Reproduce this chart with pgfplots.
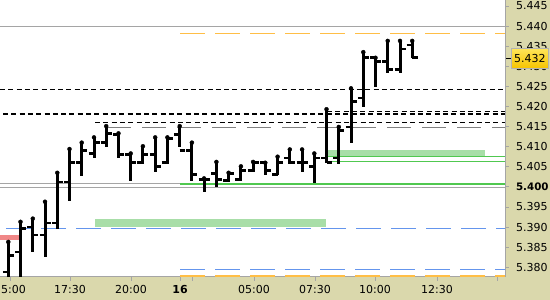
\documentclass[border=0pt]{standalone}
\usepackage{pgfplots}
\pgfplotsset{compat=1.18}
\usepackage{pgfplotstable}
\usepackage{fontspec}
\setmainfont{DejaVu Sans}
\definecolor{panel}{RGB}{218,216,172}
\definecolor{gband}{RGB}{168,222,168}
\definecolor{gline}{RGB}{80,200,80}
\definecolor{bdash}{RGB}{100,149,237}
\definecolor{odash}{RGB}{255,190,70}
\definecolor{rband}{RGB}{240,135,135}
\definecolor{lgray}{RGB}{165,165,165}
\definecolor{tagtop}{RGB}{255,230,90}
\definecolor{tagbot}{RGB}{246,196,0}

\pgfdeclareplotmark{ohlcO}{\pgfpathmoveto{\pgfqpoint{-5.5bp}{0pt}}\pgfpathlineto{\pgfqpoint{0pt}{0pt}}\pgfusepathqstroke}
\pgfdeclareplotmark{ohlcC}{\pgfpathmoveto{\pgfqpoint{0pt}{0pt}}\pgfpathlineto{\pgfqpoint{5.5bp}{0pt}}\pgfusepathqstroke}

\pgfplotstableread{
x o h l c
8.3 5.3788 5.3863 5.3770 5.3830
20.5 5.3838 5.3913 5.3770 5.3896
32.8 5.3900 5.3921 5.3837 5.3880
45.0 5.3880 5.3963 5.3826 5.3910
57.3 5.3910 5.4035 5.3896 5.4012
69.5 5.4012 5.4094 5.3965 5.4061
81.7 5.4061 5.4110 5.4027 5.4091
94.0 5.4083 5.4123 5.4071 5.4110
106.2 5.4110 5.4151 5.4098 5.4133
118.5 5.4131 5.4133 5.4071 5.4081
130.7 5.4081 5.4083 5.4015 5.4060
142.9 5.4060 5.4101 5.4058 5.4081
155.2 5.4081 5.4123 5.4037 5.4050
167.4 5.4060 5.4123 5.4058 5.4120
179.7 5.4131 5.4151 5.4098 5.4091
191.9 5.4091 5.4110 5.4015 5.4031
204.1 5.4019 5.4021 5.3987 5.4019
216.4 5.4033 5.4062 5.3999 5.4019
228.6 5.4015 5.4035 5.4012 5.4033
240.9 5.4018 5.4051 5.4015 5.4041
253.1 5.4040 5.4062 5.4037 5.4060
265.3 5.4060 5.4060 5.4029 5.4041
277.6 5.4031 5.4075 5.4029 5.4060
289.8 5.4072 5.4093 5.4058 5.4060
302.1 5.4060 5.4093 5.4037 5.4060
314.3 5.4050 5.4083 5.4010 5.4072
326.5 5.4072 5.4193 5.4060 5.4060
338.8 5.4072 5.4149 5.4058 5.4141
351.0 5.4149 5.4245 5.4108 5.4212
363.3 5.4221 5.4335 5.4199 5.4321
375.5 5.4321 5.4321 5.4249 5.4311
387.7 5.4311 5.4363 5.4282 5.4292
400.0 5.4292 5.4363 5.4282 5.4343
412.2 5.4353 5.4363 5.4321 5.4321
}\bars

\begin{document}
\begin{tikzpicture}
\fill[panel] (505bp,0) rectangle (550bp,300bp);
\fill[panel] (0,0) rectangle (550bp,23bp);
\begin{axis}[
  at={(0,23bp)}, anchor=south west,
  scale only axis, width=505bp, height=277bp,
  xmin=0, xmax=505, ymin=5.37758, ymax=5.44647,
  axis x line*=bottom, axis y line*=right,
  axis line style={draw=lgray, line width=1bp},
  tick align=outside, major tick length=4bp,
  tick style={lgray, line width=0.8bp},
  font=\fontsize{11bp}{13bp}\selectfont,
  xtick={10,70,131,180,192,254,315,375,437,497},
  xticklabels={15:00,17:30,20:00,\textbf{16},,05:00,07:30,10:00,12:30,},
  xticklabel style={anchor=center, yshift=-8.5bp},
  ytick={5.380,5.385,5.390,5.395,5.400,5.405,5.410,5.415,5.420,5.425,5.430,5.435,5.440,5.445},
  yticklabels={5.380,5.385,5.390,5.395,{\fontsize{10.3bp}{12bp}\selectfont\bfseries 5.400},5.405,5.410,5.415,5.420,5.425,5.430,5.435,5.440,5.445},
  yticklabel style={anchor=west, xshift=3.5bp},
  clip=true,
]
% zones
\addplot[fill=rband, draw=none] coordinates {(0,5.38689) (20,5.38689) (20,5.38796) (0,5.38796)};
\addplot[fill=gband, draw=none] coordinates {(95,5.39003) (326,5.39003) (326,5.39194) (95,5.39194)};
\addplot[fill=gband, draw=none] coordinates {(326,5.40751) (485,5.40751) (485,5.40925) (326,5.40925)};
% horizontal levels
\addplot[lgray, line width=1bp] coordinates {(0,5.4400) (505,5.4400)};
\addplot[odash, line width=1.2bp, dash pattern=on 25bp off 10bp] coordinates {(180,5.43818) (505,5.43818)};
\addplot[black, line width=1.2bp, dash pattern=on 5bp off 3.3bp] coordinates {(0,5.4242) (505,5.4242)};
\addplot[black, line width=1.2bp, dash pattern=on 5bp off 3.3bp] coordinates {(327,5.41876) (505,5.41876)};
\addplot[black, line width=1.8bp, dash pattern=on 5bp off 3.3bp] coordinates {(3,5.41809) (505,5.41809)};
\addplot[black, line width=1.2bp, dash pattern=on 5bp off 3.3bp] coordinates {(95,5.41602) (505,5.41602)};
\addplot[gray, line width=1.1bp, dash pattern=on 24bp off 11bp] coordinates {(107,5.41478) (505,5.41478)};
\addplot[gline, line width=1bp] coordinates {(326,5.40756) (505,5.40756)};
\addplot[gline, line width=1bp] coordinates {(326,5.40638) (505,5.40638)};
\addplot[lgray, line width=1bp] coordinates {(0,5.40083) (505,5.40083)};
\addplot[lgray, line width=1bp] coordinates {(0,5.39984) (505,5.39984)};
\addplot[gline, line width=1.5bp] coordinates {(180,5.40071) (505,5.40071)};
\addplot[bdash, line width=1.1bp, dash pattern=on 25bp off 10bp] coordinates {(6,5.38963) (505,5.38963)};
\addplot[bdash, line width=1.1bp, dash pattern=on 25bp off 10bp] coordinates {(180,5.37949) (505,5.37949)};
\addplot[odash, line width=2bp, dash pattern=on 25bp off 10bp] coordinates {(180,5.37775) (505,5.37775)};
% OHLC bars
\addplot[only marks, mark=none, error bars/.cd, y dir=minus, y explicit, error mark=none,
  error bar style={draw=black, solid, line width=3bp}]
  table[x=x, y=h, y error minus expr=\thisrow{h}-\thisrow{l}] {\bars};
\addplot[only marks, mark=ohlcO, mark options={draw=black, solid, line width=2.7bp}] table[x=x, y=o] {\bars};
\addplot[only marks, mark=ohlcC, mark options={draw=black, solid, line width=2.7bp}] table[x=x, y=c] {\bars};
\coordinate (tag) at (axis cs:505,5.432);
\end{axis}
\draw[black, line width=1.2bp] ([xshift=1bp]tag) -- ([xshift=7bp]tag);
\node[anchor=west, top color=tagtop, bottom color=tagbot, draw=gray!60, line width=0.6bp,
  minimum width=37bp, minimum height=20bp, inner sep=1bp,
  font=\fontsize{11bp}{13bp}\selectfont] at ([xshift=6bp]tag) {5.432};
\pgfresetboundingbox
\path (0,0) rectangle (550bp,300bp);
\end{tikzpicture}
\end{document}
